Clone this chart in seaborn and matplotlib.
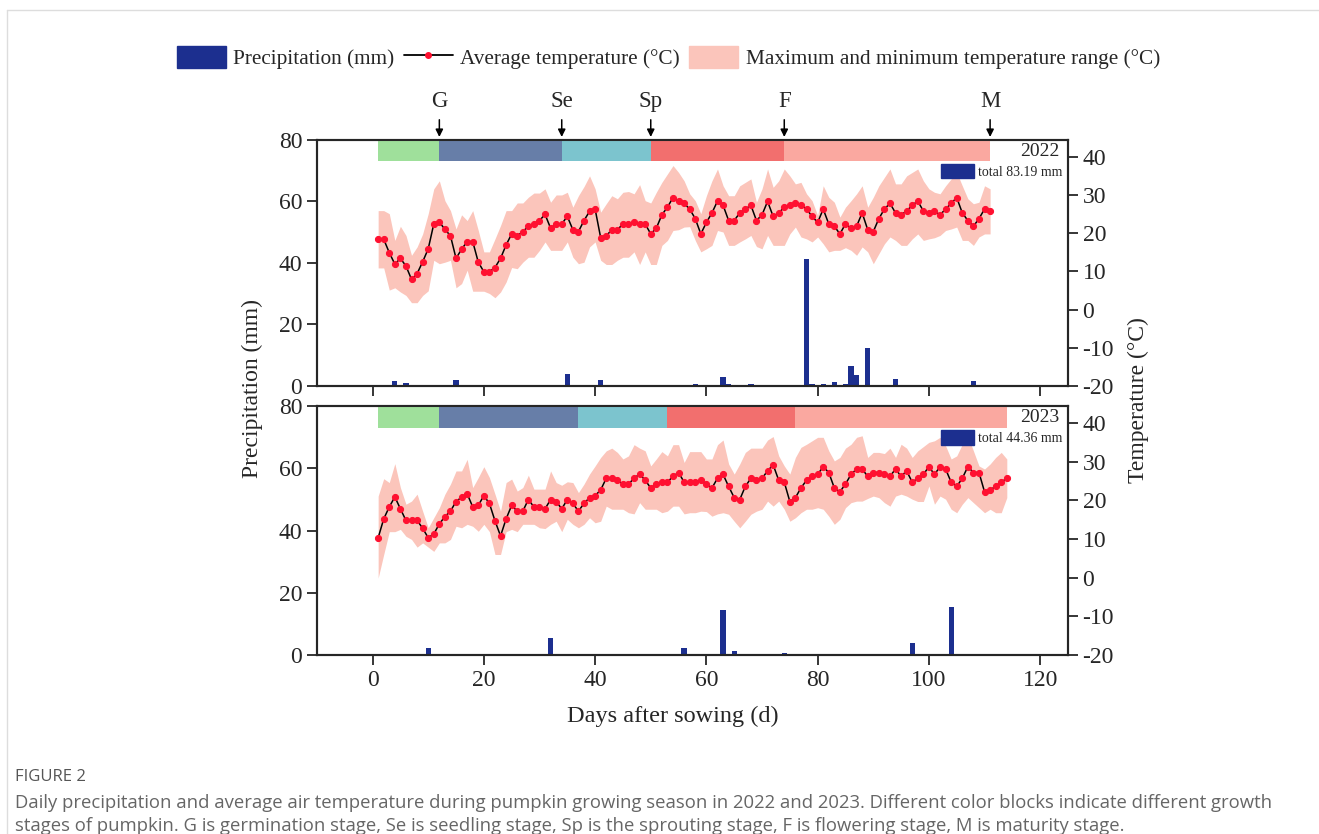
import numpy as np
import pandas as pd
import matplotlib.pyplot as plt
import seaborn as sns
from matplotlib.patches import Patch
from matplotlib.lines import Line2D

# ---------------- data ----------------
tmean_2022 = [18.4, 18.4, 14.9, 11.9, 13.4, 11.4, 7.9, 9.4, 12.5, 15.9, 22.4, 22.9, 21.0, 19.3, 13.4, 15.8,
              17.8, 17.8, 12.4, 9.9, 9.9, 11.0, 13.4, 16.9, 19.8, 19.3, 20.4, 21.8, 22.4, 23.3, 24.9, 21.3,
              22.4, 22.4, 24.4, 20.9, 20.4, 23.3,
              25.7, 26.3, 18.8, 19.3, 20.9, 20.9, 22.4, 22.4, 22.8, 22.4, 22.4, 19.8, 21.3, 24.8, 26.8, 29.3,
              28.4, 27.8, 26.3, 23.8, 19.8, 22.8, 25.3, 28.4, 27.3, 23.3, 23.3, 25.3, 26.3, 27.3, 23.3, 24.8,
              28.3, 24.4, 25.3, 26.8, 27.3, 27.9,
              27.4, 26.3, 24.4, 22.8, 26.3, 22.4, 21.8, 19.8, 22.4, 21.3, 21.8, 25.3, 20.9, 20.4, 23.8, 26.3,
              27.8, 25.3, 24.8, 25.8, 27.3, 28.4, 25.8, 25.3, 25.8, 24.8, 26.3, 27.8, 29.3, 25.3, 23.3, 21.8,
              23.8, 26.3, 25.8]
tmax_2022 = [25.9, 25.9, 25.1, 18.1, 21.8, 19.4, 14.2, 16.4, 19.8, 25.1, 31.6, 33.7, 28.5, 25.9, 21.1, 24.8,
             23.3, 25.9, 20.7, 15.1, 15.1, 18.5, 22.0, 25.9, 25.9, 27.9, 27.9, 29.4, 30.5, 30.5, 31.6, 28.1,
             30.0, 30.0, 30.7, 26.8, 29.8, 32.2,
             35.0, 31.6, 25.5, 27.7, 29.8, 29.0, 30.7, 30.9, 30.3, 32.7, 28.5, 27.9, 30.7, 33.3, 35.5, 37.7,
             35.9, 33.7, 30.3, 28.5, 25.1, 29.8, 33.7, 36.8, 32.4, 29.8, 29.8, 32.4, 33.3, 34.2, 28.1, 31.6,
             36.8, 32.0, 33.7, 36.8, 35.0, 32.9,
             33.3, 30.3, 28.5, 24.6, 32.4, 29.4, 28.1, 24.2, 26.8, 28.5, 30.3, 32.4, 26.8, 29.4, 32.4, 34.6,
             36.8, 32.9, 32.9, 35.0, 35.9, 36.8, 33.7, 31.6, 30.7, 30.3, 32.4, 34.2, 35.9, 32.4, 29.0, 27.7,
             28.1, 32.4, 31.6]
tmin_2022 = [10.9, 10.9, 5.1, 5.7, 4.6, 3.7, 1.8, 1.8, 3.7, 4.9, 12.9, 12.0, 12.4, 12.9, 5.7, 6.8,
             10.3, 4.8, 4.8, 4.8, 4.2, 3.1, 4.6, 7.2, 11.0, 10.7, 12.4, 13.7, 13.7, 15.5, 17.7, 15.5,
             15.5, 15.5, 17.7, 13.7, 12.0, 12.4,
             16.4, 17.7, 12.9, 11.8, 11.8, 12.9, 13.7, 13.7, 15.1, 11.8, 15.1, 11.8, 11.8, 16.8, 18.1, 20.7,
             20.9, 21.6, 21.7, 18.1, 15.1, 15.9, 16.8, 20.7, 20.3, 16.8, 16.8, 17.7, 18.5, 19.4, 16.5, 15.9,
             19.4, 16.8, 16.8, 16.8, 19.8, 21.6,
             19.0, 18.5, 17.7, 19.0, 17.2, 15.1, 15.5, 15.5, 16.2, 15.5, 14.2, 16.4, 15.1, 12.0, 14.6, 17.2,
             19.0, 18.1, 16.8, 16.8, 18.5, 19.8, 18.1, 18.5, 18.8, 19.4, 20.7, 21.1, 21.6, 18.1, 18.1, 16.8,
             19.0, 19.8, 19.8]

tmean_2023 = [10.3, 15.2, 18.3, 20.9, 17.8, 14.8, 14.8, 14.8, 12.8, 10.3, 11.3, 13.9, 15.8, 17.2, 19.7, 20.8,
              21.7, 18.3, 18.7, 21.2, 19.2, 14.7, 10.8, 15.2, 18.7, 17.2, 17.2, 20.2, 18.3, 18.3, 17.8, 20.2,
              19.7, 17.8, 20.2, 19.2, 17.2, 19.2,
              20.7, 21.2, 22.7, 25.7, 25.7, 25.2, 24.2, 24.2, 25.7, 26.8, 25.2, 23.2, 24.2, 24.7, 24.7, 26.2,
              27.2, 24.7, 24.7, 24.7, 25.2, 24.2, 23.2, 25.7, 26.7, 23.6, 20.7, 20.2, 23.6, 25.7, 25.2, 25.7,
              27.6, 29.2, 25.2, 24.7, 19.7,
              20.7, 23.2, 25.2, 26.2, 26.7, 28.7, 27.2, 23.2, 22.2, 24.2, 26.7, 28.1, 28.1, 26.2, 27.2, 27.2,
              26.7, 26.2, 28.1, 26.2, 27.6, 24.7, 25.7, 26.7, 28.7, 26.7, 28.7, 28.1, 24.7, 23.6, 25.7, 28.7,
              27.2, 27.2, 22.2, 22.7, 23.6, 24.7, 25.7]
tmax_2023 = [21.1, 25.6, 24.6, 29.5, 23.3, 19.0, 19.8, 21.6, 17.2, 12.9, 15.5, 18.1, 21.6, 24.2, 27.6, 27.6,
             30.6, 23.3, 25.9, 28.7, 25.9, 21.6, 17.2, 24.6, 25.5, 22.4, 23.3, 26.5, 22.9, 22.9, 22.9, 27.6,
             24.6, 23.9, 24.8, 24.6, 22.0, 24.2,
             26.8, 28.9, 31.1, 32.8, 33.5, 32.4, 30.7, 31.5, 34.4, 33.5, 32.8, 28.9, 30.7, 32.6, 31.5, 34.4,
             34.4, 29.8, 32.6, 32.6, 32.6, 30.7, 30.7, 34.4, 35.6, 29.4, 26.8, 29.4, 32.4, 33.5, 33.5, 33.5,
             35.6, 36.5, 31.5, 28.9, 26.8,
             31.1, 33.7, 34.5, 35.4, 36.3, 36.3, 32.8, 30.2, 31.1, 33.5, 34.5, 36.3, 36.7, 31.1, 32.4, 32.4,
             32.1, 33.5, 31.1, 34.5, 33.5, 31.1, 32.8, 33.9, 35.0, 35.4, 36.3, 34.1, 30.7, 31.5, 34.5, 36.7,
             32.8, 28.9, 28.1, 29.4, 31.1, 32.4, 30.7]
tmin_2023 = [-0.1, 6.0, 11.9, 11.9, 12.5, 10.7, 9.9, 7.9, 9.0, 7.9, 6.8, 9.0, 9.0, 9.9, 13.3, 12.9,
             13.8, 13.3, 12.0, 13.8, 11.9, 6.0, 6.0, 11.9, 12.5, 11.9, 13.8, 13.8, 13.8, 12.9, 12.7, 13.8,
             14.6, 11.9, 15.1, 13.8, 12.9, 13.8,
             15.5, 14.2, 14.6, 18.5, 17.7, 17.7, 17.7, 16.8, 16.5, 19.4, 17.7, 17.7, 17.7, 16.8, 17.2, 18.5,
             18.5, 16.5, 16.8, 16.8, 17.2, 17.1, 15.9, 16.5, 16.8, 16.4, 14.6, 12.9, 14.6, 16.4, 17.2, 17.7,
             19.8, 18.5, 19.8, 17.7, 14.6,
             15.5, 16.8, 17.7, 17.7, 18.1, 17.7, 15.9, 13.8, 15.1, 18.1, 19.4, 19.8, 19.8, 20.5, 21.1, 20.7,
             19.4, 18.5, 21.1, 21.6, 21.1, 20.3, 19.7, 19.7, 23.7, 19.0, 21.1, 20.3, 17.7, 16.8, 19.0, 20.7,
             19.4, 18.1, 16.8, 17.7, 16.8, 16.8, 20.7]

rain_days_2022 = [4, 6, 15, 35, 41, 58, 63, 64, 68, 78, 79, 81, 83, 85, 86, 87, 89, 94, 103, 108]
rain_mm_2022 = [1.6, 1.0, 2.0, 3.8, 2.1, 0.5, 2.8, 0.5, 0.7, 41.3, 0.7, 0.5, 1.3, 0.5, 6.4, 3.5, 12.4, 2.3, 0.4, 1.5]
rain_days_2023 = [10, 32, 56, 63, 65, 74, 97, 104]
rain_mm_2023 = [2.3, 5.6, 2.4, 14.4, 1.3, 0.8, 3.9, 15.4]

stage_names = ["G", "Se", "Sp", "F", "M"]
stage_ends_2022 = [12, 34, 50, 74, 111]
stage_ends_2023 = [12, 37, 53, 76, 114]
stage_colors = ["#9fe09b", "#677ea8", "#7cc4ce", "#f26f6e", "#faa8a0"]

totals = {"2022": "total 83.19 mm", "2023": "total 44.36 mm"}

RAIN_C = "#1c2f8f"
BAND_C = "#fbc5bb"
DOT_C = "#ff1030"

# ---------------- style ----------------
sns.set_theme(style="ticks")
plt.rcParams["font.family"] = ["Liberation Serif", "DejaVu Serif"]
plt.rcParams["axes.linewidth"] = 1.5
plt.rcParams["axes.unicode_minus"] = False

fig = plt.figure(figsize=(13.19, 8.34), dpi=100)
ax_top = fig.add_axes([0.2403, 0.5372, 0.5694, 0.2950])
ax_bot = fig.add_axes([0.2403, 0.2146, 0.5694, 0.2986])


def draw_panel(ax, year, tmean, tmin, tmax, rdays, rmm, ends):
    days = np.arange(1, len(tmean) + 1)
    rain = pd.Series(rmm, index=rdays).reindex(days, fill_value=0.0)
    df = pd.DataFrame({"day": days, "rain": rain.values})
    sns.barplot(data=df, x="day", y="rain", native_scale=True, color=RAIN_C,
                saturation=1, width=0.95, linewidth=0, ax=ax, zorder=2)
    ax.set_xlim(-10, 125)
    ax.set_ylim(0, 80)
    ax.set_yticks([0, 20, 40, 60, 80])
    ax.set_xticks([0, 20, 40, 60, 80, 100, 120])
    ax.set_xlabel("")
    ax.set_ylabel("")
    ax.tick_params(direction="out", length=7, width=1.3, labelsize=17, top=False)

    axt = ax.twinx()
    axt.fill_between(days, tmin, tmax, color=BAND_C, lw=0, zorder=1)
    sns.lineplot(x=days, y=tmean, ax=axt, color="black", lw=1.1, marker="o",
                 markersize=4.4, markerfacecolor=DOT_C, markeredgecolor=DOT_C, zorder=3)
    axt.set_ylim(-20, 44.4)
    axt.set_yticks([-20, -10, 0, 10, 20, 30, 40])
    axt.set_ylabel("")
    axt.tick_params(direction="out", length=7, width=1.3, labelsize=17)

    # growth stage blocks
    start = 1
    for end, c in zip(ends, stage_colors):
        axt.axvspan(start, end, ymin=0.913, ymax=1.0, color=c, lw=0, zorder=2)
        start = end

    axt.text(0.963, 0.952, year, transform=axt.transAxes, ha="center", va="center", fontsize=14)
    axt.legend(handles=[Patch(color=RAIN_C)], labels=[totals[year]], loc="center right",
               bbox_to_anchor=(0.992, 0.872), frameon=False, fontsize=10, handlelength=2.4,
               handleheight=1.2, handletextpad=0.25, borderpad=0, borderaxespad=0)
    return axt


axt_top = draw_panel(ax_top, "2022", tmean_2022, tmin_2022, tmax_2022,
                     rain_days_2022, rain_mm_2022, stage_ends_2022)
axt_bot = draw_panel(ax_bot, "2023", tmean_2023, tmin_2023, tmax_2023,
                     rain_days_2023, rain_mm_2023, stage_ends_2023)
ax_top.tick_params(labelbottom=False)

# stage arrows above top panel
trans = ax_top.get_xaxis_transform()
for name, d in zip(stage_names, stage_ends_2022):
    ax_top.annotate(name, xy=(d, 1.012), xytext=(d, 1.155), xycoords=trans, textcoords=trans,
                    ha="center", va="center", fontsize=16.5, annotation_clip=False,
                    arrowprops=dict(arrowstyle="-|>", color="black", lw=1.1,
                                    mutation_scale=11, shrinkA=3, shrinkB=0))

# shared labels
fig.text(0.191, 0.534, "Precipitation (mm)", rotation=90, ha="center", va="center", fontsize=17)
fig.text(0.8628, 0.52, "Temperature (°C)", rotation=90, ha="center", va="center", fontsize=17)
fig.text(0.5103, 0.1415, "Days after sowing (d)", ha="center", va="center", fontsize=17.5)

# top legend
handles = [Patch(color=RAIN_C),
           Line2D([0], [0], color="black", lw=1.3, marker="o", markersize=4,
                  markerfacecolor=DOT_C, markeredgecolor=DOT_C),
           Patch(color=BAND_C)]
labels = ["Precipitation (mm)", "Average temperature (°C)",
          "Maximum and minimum temperature range (°C)"]
fig.legend(handles, labels, loc="center", bbox_to_anchor=(0.5068, 0.9305), ncol=3,
           frameon=False, fontsize=15.3, handlelength=2.3, handleheight=1.2,
           handletextpad=0.35, columnspacing=0.45, borderpad=0, borderaxespad=0)

# caption
cap_font = ["Open Sans", "DejaVu Sans"]
fig.text(0.0114, 1 - 777 / 834, "FIGURE 2", fontsize=12, color="#555555",
         family=cap_font, va="center")
fig.text(0.0114, 1 - 803 / 834,
         "Daily precipitation and average air temperature during pumpkin growing season in 2022 and 2023. "
         "Different color blocks indicate different growth",
         fontsize=13.3, color="#666666", family=cap_font, va="center")
fig.text(0.0114, 1 - 826 / 834,
         "stages of pumpkin. G is germination stage, Se is seedling stage, Sp is the sprouting stage, "
         "F is flowering stage, M is maturity stage.",
         fontsize=13.3, color="#666666", family=cap_font, va="center")

# page frame lines
fig.add_artist(Line2D([0.005, 1.0], [0.988, 0.988], transform=fig.transFigure, color="#dddddd", lw=1))
fig.add_artist(Line2D([0.005, 0.005], [0.0, 0.988], transform=fig.transFigure, color="#dddddd", lw=1))

fig.savefig("out.png", dpi=100)
